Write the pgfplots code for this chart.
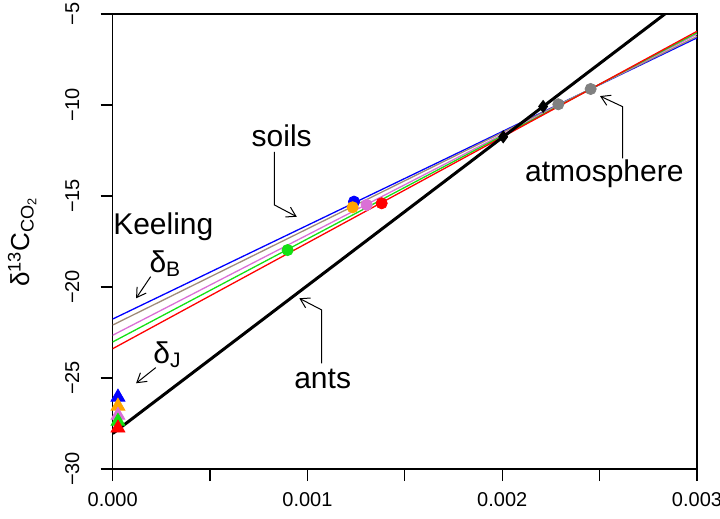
\documentclass[border=0pt]{standalone}
\usepackage{fontspec}
\setmainfont{Liberation Sans}
\usepackage{pgfplots}
\pgfplotsset{compat=1.18}
\usetikzlibrary{arrows.meta}
\definecolor{soilgray}{RGB}{160,140,120}
\definecolor{rorchid}{RGB}{218,112,214}
\definecolor{rorange}{RGB}{255,165,0}
\definecolor{rgreen}{RGB}{20,225,20}
\definecolor{atmgray}{RGB}{128,128,128}
\newcommand{\annfont}{\fontsize{15bp}{18bp}\selectfont}
\begin{document}
\begin{tikzpicture}
\begin{axis}[
  at={(0,0)}, anchor=south west,
  scale only axis, width=292.15bp, height=227.5bp,
  xmin=0, xmax=0.003, ymin=-30, ymax=-5,
  axis line style={line width=0.6bp},
  tick style={line width=0.6bp, black},
  major tick length=6bp,
  tick align=outside, tick pos=left,
  scaled x ticks=false,
  xtick={0,0.0005,0.001,0.0015,0.002,0.0025,0.003},
  xticklabels={0.000,,0.001,,0.002,,0.003},
  ytick={-30,-25,-20,-15,-10,-5},
  yticklabels={−30,−25,−20,−15,−10,−5},
  ticklabel style={font=\fontsize{10bp}{12bp}\selectfont},
  xticklabel style={anchor=north, inner sep=0pt},
  xticklabel shift=5.5bp,
  yticklabel style={rotate=90, anchor=south, inner sep=0pt},
  yticklabel shift=10.5bp,
  every axis y label/.style={at={(axis description cs:0,0.5)}, xshift=-45.3bp, rotate=90, anchor=center, font=\fontsize{13bp}{15bp}\selectfont},
  ylabel={δ\textsuperscript{13}C\textsubscript{CO\textsubscript{2}}},
]
% Keeling lines
\addplot[blue, line width=0.65bp] coordinates {(0,-21.76) (0.003,-6.31)};
\addplot[soilgray, line width=0.65bp] coordinates {(0,-22.09) (0.003,-6.23)};
\addplot[rorchid, line width=0.65bp] coordinates {(0,-22.65) (0.003,-6.11)};
\addplot[rgreen, line width=0.65bp] coordinates {(0,-23.02) (0.003,-6.03)};
\addplot[red, line width=0.65bp] coordinates {(0,-23.39) (0.003,-5.95)};
% ants line
\addplot[black, line width=1.5bp] coordinates {(0,-28.05) (0.003,-3.66)};
\addplot[only marks, mark=diamond*, mark size=3bp, black] coordinates {(0.002005,-11.75) (0.002210,-10.08)};
% intercepts
\addplot[only marks, mark=triangle*, mark size=4bp, blue] coordinates {(0.000027,-26.05)};
\addplot[only marks, mark=triangle*, mark size=4bp, rorange] coordinates {(0.000027,-26.55)};
\addplot[only marks, mark=triangle*, mark size=4bp, rorchid] coordinates {(0.000027,-27.05)};
\addplot[only marks, mark=triangle*, mark size=4bp, rgreen] coordinates {(0.000027,-27.38)};
\addplot[only marks, mark=triangle*, mark size=4bp, red] coordinates {(0.000027,-27.75)};
% soils
\addplot[only marks, mark=*, mark size=2.8bp, blue] coordinates {(0.001239,-15.31)};
\addplot[only marks, mark=*, mark size=2.8bp, rorange] coordinates {(0.001232,-15.62)};
\addplot[only marks, mark=*, mark size=2.8bp, rorchid] coordinates {(0.001304,-15.49)};
\addplot[only marks, mark=*, mark size=2.8bp, red] coordinates {(0.001381,-15.40)};
\addplot[only marks, mark=*, mark size=2.8bp, rgreen] coordinates {(0.000898,-17.97)};
% atmosphere
\addplot[only marks, mark=*, mark size=2.8bp, atmgray] coordinates {(0.002288,-9.96) (0.002454,-9.12)};
% annotations
\tikzset{ann/.style={-{Straight Barb[length=4.5bp,width=5.5bp]}, line width=0.5bp, black}}
\draw[ann] (0.000830,-12.57) -- (0.000830,-15.49) -- (0.000945,-16.14);
\draw[ann] (0.000195,-19.43) -- (0.000120,-20.62);
\draw[ann] (0.000221,-24.43) -- (0.000120,-25.29);
\draw[ann] (0.001073,-24.19) -- (0.001073,-21.26) -- (0.000958,-20.62);
\draw[ann] (0.002618,-12.93) -- (0.002618,-10.09) -- (0.002502,-9.51);
\node[anchor=base, font=\annfont, inner sep=0pt] at (0.000868,-12.29) {soils};
\node[anchor=base, font=\annfont, inner sep=0pt] at (0.000260,-17.09) {Keeling};
\node[anchor=base west, font=\annfont, inner sep=0pt] at (0.000187,-19.18) {δ\textsubscript{B}};
\node[anchor=base west, font=\annfont, inner sep=0pt] at (0.000207,-24.18) {δ\textsubscript{J}};
\node[anchor=base, font=\annfont, inner sep=0pt] at (0.001078,-25.60) {ants};
\node[anchor=base, font=\annfont, inner sep=0pt] at (0.002524,-14.18) {atmosphere};
\end{axis}
\pgfresetboundingbox
\path (-56.35bp,-25bp) rectangle (303.65bp,234.5bp);
\end{tikzpicture}
\end{document}
